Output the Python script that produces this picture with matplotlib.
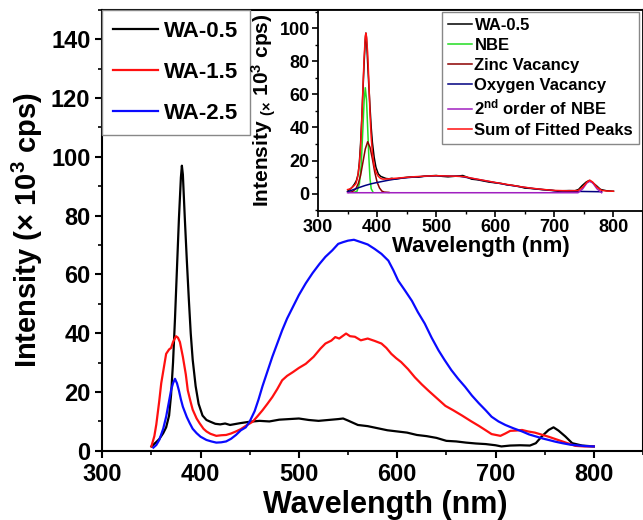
import matplotlib
matplotlib.use("Agg")
import matplotlib.pyplot as plt
from matplotlib.ticker import MultipleLocator

plt.rcParams['font.family'] = ['Liberation Sans', 'DejaVu Sans']
plt.rcParams['font.weight'] = 'bold'
plt.rcParams['axes.labelweight'] = 'bold'
plt.rcParams['mathtext.fontset'] = 'custom'
plt.rcParams['mathtext.rm'] = 'Liberation Sans:bold'
plt.rcParams['mathtext.it'] = 'Liberation Sans:bold'
plt.rcParams['mathtext.bf'] = 'Liberation Sans:bold'
plt.rcParams['mathtext.default'] = 'rm'

# --- main spectra ---
wl_05 = [350, 355, 358, 362, 365, 368, 370, 372, 374, 376, 378, 380, 381, 382, 384, 386,
         388, 390, 392, 395, 398, 402, 406, 410, 415, 420, 425, 430, 440, 450, 460, 470,
         480, 490, 500, 510, 520, 530, 540, 545, 550, 560, 570, 580, 590, 600, 610, 620,
         630, 640, 650, 660, 670, 680, 690, 700, 706, 715, 725, 735, 741, 747, 754, 759,
         764, 771, 778, 788, 800]
I_05 = [1.5, 3, 4, 6, 8, 12, 19, 30, 45, 62, 79, 93, 97, 94, 79, 65,
        52, 40, 31, 22, 16, 12, 10.5, 9.9, 9.2, 9.0, 9.3, 8.8, 9.4, 9.9, 10.2, 10.0,
        10.6, 10.8, 11.0, 10.5, 10.2, 10.5, 10.8, 11.0, 10.3, 8.8, 8.4, 7.7, 7.0, 6.6, 6.2, 5.4,
        5.0, 4.4, 3.4, 3.2, 2.8, 2.5, 2.3, 1.9, 1.5, 1.8, 1.9, 1.8, 2.6, 4.9, 7.1, 8.0,
        6.9, 4.9, 2.6, 1.8, 1.5]

wl_15 = [350, 353, 355, 358, 360, 363, 365, 368, 370, 372, 375, 377, 379, 382, 385, 387,
         390, 392, 396, 399, 403, 406, 410, 416, 421, 426, 431, 436, 441, 446, 450, 453,
         458, 463, 468, 473, 478, 483, 488, 494, 500, 507, 515, 522, 527, 533, 537, 541,
         548, 552, 557, 563, 570, 577, 584, 589, 594, 599, 604, 611, 618, 625, 632, 640,
         649, 657, 666, 675, 683, 690, 696, 705, 710, 715, 721, 727, 733, 740, 747, 754,
         761, 768, 775, 781, 790, 800]
I_15 = [1.5, 5, 9, 17, 23, 29, 33, 34.5, 35, 37, 39, 38.5, 37, 32, 26, 20.6,
        16.5, 14, 11, 9.4, 7.5, 6.6, 5.8, 5.1, 5.3, 5.4, 5.9, 6.6, 7.4, 8.5, 9.3, 9.9,
        11.8, 13.8, 16, 18.3, 21, 24, 25.5, 26.8, 28.2, 29.6, 32, 34.8, 36.5, 37.5, 38.7, 38.2,
        39.9, 39, 38.8, 37.6, 38.2, 37.4, 36.5, 35, 33, 31.5, 30.2, 27.8, 25, 22.6, 20.4, 18,
        15.3, 13.8, 12, 10.1, 8.5, 7, 5.7, 5.1, 5.9, 6.8, 6.9, 7.1, 6.6, 6.2, 5.5, 4.8,
        4.0, 3.2, 2.4, 1.7, 1.5, 1.5]

wl_25 = [352, 355, 358, 362, 365, 368, 370, 372, 374, 376, 378, 380, 382, 386, 389, 392,
         396, 400, 406, 411, 416, 421, 426, 431, 436, 441, 446, 450, 455, 459, 463, 468,
         473, 478, 483, 488, 494, 500, 507, 514, 521, 527, 534, 540, 545, 550, 556, 564,
         570, 577, 584, 591, 596, 601, 608, 615, 621, 628, 635, 642, 648, 655, 662, 669,
         676, 683, 690, 696, 703, 710, 718, 727, 734, 741, 748, 754, 761, 768, 776, 785,
         792, 800]
I_25 = [1.1, 2, 3.7, 7.5, 11.6, 17, 20.6, 23, 24.5, 23, 20.5, 17.5, 15, 11.5, 9.4, 7.5,
        6, 4.8, 3.7, 3.2, 2.8, 2.9, 3.2, 4.1, 5.4, 7, 8, 10, 13.5, 17.5, 22, 27,
        32, 36.5, 41, 45, 49, 53, 57, 60.5, 63.6, 66, 68.2, 70.4, 71, 71.5, 71.8, 70.9,
        70.2, 68.7, 67, 64.7, 61.5, 57.9, 54.5, 51, 47.2, 43.3, 38.5, 34.2, 31, 27.5, 24.5, 21.8,
        18.8, 16.2, 13.8, 11.6, 10, 8.8, 7.7, 6.6, 5.6, 4.9, 4.2, 3.7, 3.1, 2.6, 2.1, 1.8,
        1.6, 1.5]

# --- inset: fitted components of WA-0.5 ---
wl_nbe = [362, 366, 370, 373, 376, 378, 380, 382, 384, 386, 388, 390, 393]
I_nbe = [1, 1.5, 6, 17, 40, 56, 64, 57, 40, 22, 9, 3, 1]

wl_zn = [352, 358, 364, 368, 372, 376, 380, 384, 388, 392, 396, 400, 404, 408, 412, 420]
I_zn = [0.8, 1.2, 3, 6, 11, 19, 27, 31.4, 28, 21, 13, 7, 3.5, 1.6, 1, 0.8]

wl_ov = [350, 360, 370, 380, 390, 400, 410, 420, 430, 440, 460, 480, 500, 520, 540, 560,
         580, 600, 620, 640, 660, 680, 700, 720, 740, 760, 780]
I_ov = [1.2, 2.5, 3.8, 5, 6, 6.8, 7.5, 8.2, 8.8, 9.3, 10, 10.5, 10.8, 10.7, 10.5, 9.3,
        8, 6.7, 5.4, 4.3, 3.3, 2.5, 1.8, 1.5, 1.4, 1.3, 1.2]

wl_2nd = [350, 740, 748, 755, 760, 765, 772, 780]
I_2nd = [0.6, 0.6, 3, 6.5, 7.5, 6.5, 3, 0.6]

wl_sum = [350, 355, 360, 364, 367, 370, 372, 374, 376, 378, 380, 381, 382, 384, 386, 388,
          390, 392, 395, 398, 402, 406, 410, 420, 430, 440, 460, 480, 500, 520, 540, 550,
          560, 580, 600, 620, 640, 660, 680, 700, 720, 740, 748, 755, 760, 765, 772, 780,
          790, 800]
I_sum = [2.5, 3, 4.5, 6, 10, 18, 28, 44, 64, 82, 95, 97, 95, 85, 68, 48,
         34, 25, 17, 13, 10.5, 9.2, 8.8, 9.0, 9.3, 9.6, 10.2, 10.6, 10.9, 10.7, 10.5, 10.2,
         9.4, 8.1, 6.8, 5.6, 4.4, 3.4, 2.6, 2.0, 1.8, 1.9, 4, 7, 8.2, 7, 4, 2,
         1.6, 1.5]

fig = plt.figure(figsize=(6.43, 5.20), dpi=100)
ax = fig.add_axes([0.159, 0.133, 0.841, 0.848])

ax.plot(wl_05, I_05, color='black', lw=1.6, label='WA-0.5')
ax.plot(wl_15, I_15, color='#ff1010', lw=1.6, label='WA-1.5')
ax.plot(wl_25, I_25, color='#0a0aff', lw=1.6, label='WA-2.5')

ax.set_xlim(300, 850)
ax.set_ylim(0, 150)
ax.xaxis.set_major_locator(MultipleLocator(100))
ax.xaxis.set_minor_locator(MultipleLocator(50))
ax.set_yticks(range(0, 141, 20))
ax.yaxis.set_minor_locator(MultipleLocator(10))
ax.tick_params(which='major', direction='out', length=5, width=1.5, labelsize=17)
ax.tick_params(which='minor', direction='out', length=3, width=1.2)
for s in ax.spines.values():
    s.set_linewidth(1.5)
ax.set_xlabel('Wavelength (nm)', fontsize=22)
ax.xaxis.set_label_coords(0.523, -0.088, transform=ax.transAxes)
ax.xaxis.label.set_va('top')
ax.set_ylabel('Intensity (× 10$^3$ cps)', fontsize=21, labelpad=4)

leg = ax.legend(loc='upper left', bbox_to_anchor=(0, 1), borderaxespad=0, fontsize=16,
                handlelength=2.0, handletextpad=0.3, labelspacing=0.9, borderpad=0.5,
                fancybox=False, framealpha=1, edgecolor='#888888')
leg.get_frame().set_linewidth(1.0)

# --- inset ---
ins = fig.add_axes([0.4946, 0.594, 0.5054, 0.387])
ins.plot(wl_05, I_05, color='black', lw=1.1, label='WA-0.5')
ins.plot(wl_nbe, I_nbe, color='#22dd22', lw=1.1, label='NBE')
ins.plot(wl_zn, I_zn, color='#8b0000', lw=1.1, label='Zinc Vacancy')
ins.plot(wl_ov, I_ov, color='#000080', lw=1.1, label='Oxygen Vacancy')
ins.plot(wl_2nd, I_2nd, color='#a020c0', lw=1.1, label='2$^{nd}$ order of NBE')
ins.plot(wl_sum, I_sum, color='#ff1010', lw=1.1, label='Sum of Fitted Peaks')

ins.set_xlim(300, 850)
ins.set_ylim(-10.5, 111)
ins.xaxis.set_major_locator(MultipleLocator(100))
ins.xaxis.set_minor_locator(MultipleLocator(50))
ins.set_yticks(range(0, 101, 20))
ins.yaxis.set_minor_locator(MultipleLocator(10))
ins.tick_params(which='major', direction='out', length=4, width=1.2, labelsize=13, pad=2)
ins.tick_params(which='minor', direction='out', length=2.5, width=1.0)
for s in ins.spines.values():
    s.set_linewidth(1.3)
ins.set_xlabel('Wavelength (nm)', fontsize=16, labelpad=0)
ins.set_ylabel('Intensity $_{(\\times}$ 10$^3$ cps)', fontsize=15, labelpad=1)

leg2 = ins.legend(loc='upper left', bbox_to_anchor=(442 / 643, 1 - 12 / 520),
                  bbox_transform=fig.transFigure, borderaxespad=0, fontsize=12,
                  handlelength=1.45, handletextpad=0.15, labelspacing=0.3, borderpad=0.35,
                  fancybox=False, framealpha=1, edgecolor='#888888')
leg2.get_frame().set_linewidth(1.0)

fig.savefig('out.png', dpi=100)
